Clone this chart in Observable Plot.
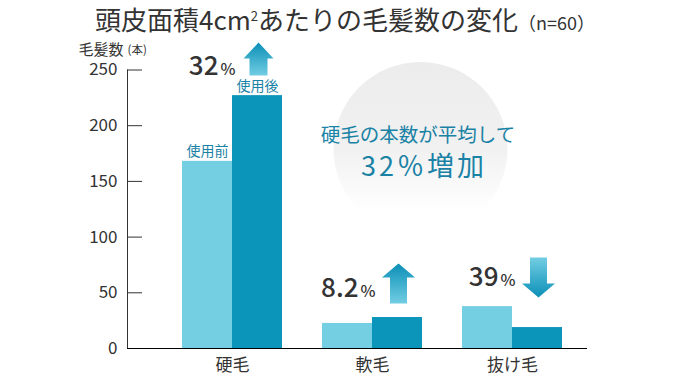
<!DOCTYPE html>
<html>
<head>
<meta charset="utf-8">
<script src="https://cdn.jsdelivr.net/npm/d3@7"></script>
<script src="https://cdn.jsdelivr.net/npm/@observablehq/plot@0.6"></script>
<style>
  body { margin: 0; background: #fff; font-family: "Noto Sans CJK JP", sans-serif; }
  #title { width: 690px; height: 38px; line-height: 38px; font-size: 26px; color: #333; text-align: center; white-space: nowrap; overflow: hidden; }
  #title .sup { font-size: 13px; vertical-align: 9px; line-height: 0; }
  #title .n { font-size: 18px; }
  #chart svg { display: block; }
</style>
</head>
<body>
<div id="title"></div>
<div id="chart"></div>
<script>
// ---- data ----
const titleMain = ["頭皮面積4cm", "2", "あたりの毛髪数の変化"];
const titleNote = "（n=60）";
const yAxisLabel = "毛髪数";
const yAxisUnit = "(本)";
const categories = ["硬毛", "軟毛", "抜け毛"];
const seriesNames = ["使用前", "使用後"];
const beforeValues = [168, 22.5, 37.6];
const afterValues = [227, 27.8, 18.8];
const yTicks = [0, 50, 100, 150, 200, 250];
const changeNumbers = ["32", "8.2", "39"];
const changeUnit = "%";
const changeDirections = ["up", "up", "down"];
const calloutLines = ["硬毛の本数が平均して", "32％増加"];

// ---- title ----
document.getElementById("title").innerHTML =
  `${titleMain[0]}<span class="sup">${titleMain[1]}</span>${titleMain[2]}<span class="n">${titleNote}</span>`;

// ---- derived tables ----
const rows = categories.flatMap((c, i) => [
  {category: c, series: seriesNames[0], value: beforeValues[i]},
  {category: c, series: seriesNames[1], value: afterValues[i]}
]);
const changes = categories.map((c, i) => ({
  category: c,
  number: changeNumbers[i],
  unit: changeUnit,
  dir: changeDirections[i],
  top: Math.max(beforeValues[i], afterValues[i])
}));

const FONT = '"Noto Sans CJK JP", "Noto Sans", sans-serif';
const LIGHT = "#74cfe3";
const DARK = "#0c95ba";
const TEAL = "#1a82a5";
const INK = "#333333";

function arrowSymbol(h, w, s, head, dir) {
  return {
    draw(ctx) {
      const k = dir === "up" ? 1 : -1;
      const t = -h / 2 * k, b = h / 2 * k, hb = t + head * k;
      ctx.moveTo(-s / 2, b);
      ctx.lineTo(-s / 2, hb);
      ctx.lineTo(-w / 2, hb);
      ctx.lineTo(0, t);
      ctx.lineTo(w / 2, hb);
      ctx.lineTo(s / 2, hb);
      ctx.lineTo(s / 2, b);
      ctx.closePath();
    }
  };
}

const arrowMarks = changes.map((d, i) => {
  const big = i !== 0;
  const sym = big ? arrowSymbol(40, 33, 17, 14, d.dir) : arrowSymbol(33, 30, 18, 16, d.dir);
  const dy = i === 0 ? -36.5 : (d.dir === "up" ? -34 : -29);
  return Plot.dot([d], {
    x: "category", y: "top", dx: 26, dy,
    symbol: sym, r: 10,
    fill: d.dir === "up" ? "url(#arrowUp)" : "url(#arrowDown)",
    stroke: "none"
  });
});

const svg = Plot.plot({
  width: 690,
  height: 338,
  marginTop: 31.5,
  marginBottom: 28,
  marginLeft: 127,
  marginRight: 103,
  style: {fontFamily: FONT, fontSize: "17px", color: INK, background: "#fff", overflow: "visible"},
  x: {domain: categories, paddingInner: 0.2857, paddingOuter: 0.2857, align: 0.6875, tickSize: 0, tickPadding: 10, label: null},
  y: {domain: [0, 250], ticks: yTicks, tickSize: -15, tickPadding: 25, line: true, label: null},
  marks: [
    // callout circle
    Plot.dot([0], {frameAnchor: "top-left", dx: 293, dy: 79, r: 87, fill: "url(#circleGrad)", stroke: "none"}),
    Plot.text([calloutLines[0]], {frameAnchor: "top-left", dx: 290.5, dy: 65.5, text: d => d, fill: TEAL, fontSize: 19.5, textAnchor: "middle", lineAnchor: "middle"}),
    Plot.text([calloutLines[1]], {frameAnchor: "top-left", dx: 296.5, dy: 97.5, text: d => d, fill: TEAL, fontSize: 27, textAnchor: "middle", lineAnchor: "middle"}),
    // y axis label
    Plot.text([yAxisLabel], {frameAnchor: "top-left", dx: -49, dy: -20, text: d => d, textAnchor: "start", fontSize: 15, fill: INK, lineAnchor: "middle"}),
    Plot.text([yAxisUnit], {frameAnchor: "top-left", dx: 0, dy: -19.5, text: d => d, textAnchor: "start", fontSize: 11.5, fill: INK, lineAnchor: "middle"}),
    // bars
    Plot.barY(rows.filter(d => d.series === seriesNames[0]), {x: "category", y: "value", fill: LIGHT, insetRight: 50}),
    Plot.barY(rows.filter(d => d.series === seriesNames[1]), {x: "category", y: "value", fill: DARK, insetLeft: 50}),
    // series labels (first group only)
    Plot.text(rows.filter(d => d.category === categories[0] && d.series === seriesNames[0]), {x: "category", y: "value", text: "series", dx: -25, dy: -10, fontSize: 14, fill: TEAL, lineAnchor: "middle"}),
    Plot.text(rows.filter(d => d.category === categories[0] && d.series === seriesNames[1]), {x: "category", y: "value", text: "series", dx: 25, dy: -9.5, fontSize: 14, fill: TEAL, lineAnchor: "middle"}),
    Plot.ruleY([0], {stroke: "#000"}),
    // change annotations
    Plot.text(changes, {x: "category", y: "top", text: "number", textAnchor: "end", lineAnchor: "bottom", dx: -14, dy: -21, fontSize: 26, fontWeight: 500, fill: INK}),
    Plot.text(changes, {x: "category", y: "top", text: "unit", textAnchor: "start", lineAnchor: "bottom", dx: -12, dy: -21, fontSize: 16, fontWeight: 500, fill: INK}),
    ...arrowMarks
  ]
});

// gradients
const defs = d3.select(svg).insert("defs", ":first-child");
const cg = defs.append("linearGradient").attr("id", "circleGrad").attr("x1", 0).attr("y1", 0).attr("x2", 0).attr("y2", 1);
cg.append("stop").attr("offset", 0).attr("stop-color", "#ececec");
cg.append("stop").attr("offset", 0.5).attr("stop-color", "#f1f1f1");
cg.append("stop").attr("offset", 0.86).attr("stop-color", "#ffffff");
const ug = defs.append("linearGradient").attr("id", "arrowUp").attr("x1", 0).attr("y1", 0).attr("x2", 0).attr("y2", 1);
ug.append("stop").attr("offset", 0).attr("stop-color", "#0b8fb7");
ug.append("stop").attr("offset", 1).attr("stop-color", "#72cde3");
const dg = defs.append("linearGradient").attr("id", "arrowDown").attr("x1", 0).attr("y1", 0).attr("x2", 0).attr("y2", 1);
dg.append("stop").attr("offset", 0).attr("stop-color", "#72cde3");
dg.append("stop").attr("offset", 1).attr("stop-color", "#0b8fb7");

d3.select(svg).selectAll("text").filter(function() { return this.textContent === calloutLines[1]; }).attr("letter-spacing", "3px");

document.getElementById("chart").appendChild(svg);
</script>
</body>
</html>
